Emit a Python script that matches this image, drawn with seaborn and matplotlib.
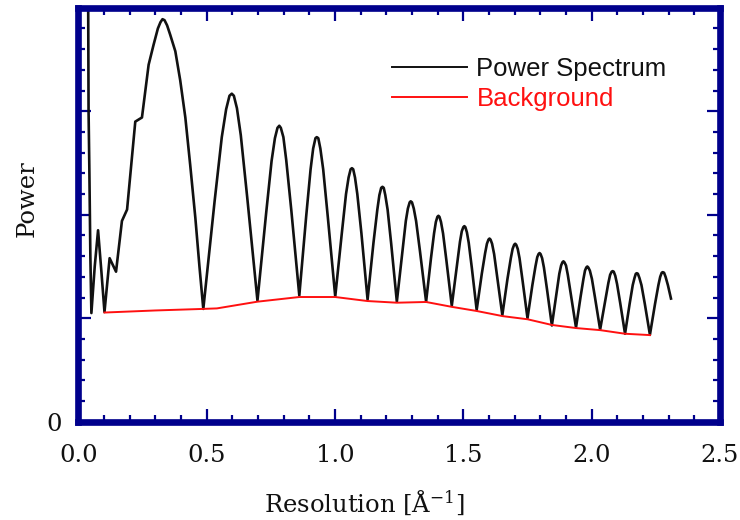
import matplotlib
matplotlib.use("Agg")
import matplotlib.pyplot as plt
import seaborn as sns
import pandas as pd
from matplotlib.ticker import MultipleLocator
from matplotlib.font_manager import FontProperties

# ---------------- data ----------------
spectrum_x = [
    0.038, 0.040, 0.043, 0.047, 0.051, 0.064, 0.077, 0.090, 0.102, 0.122,
    0.147, 0.170, 0.190, 0.205, 0.222, 0.248, 0.274, 0.293, 0.310, 0.320,
    0.328, 0.336, 0.346, 0.358, 0.378, 0.397, 0.417, 0.436, 0.456, 0.472, 0.487,
    0.531, 0.559, 0.576, 0.589, 0.598, 0.606, 0.618, 0.633, 0.658, 0.698,
    0.732, 0.753, 0.766, 0.776, 0.783, 0.789, 0.799, 0.810, 0.830, 0.861,
    0.888, 0.905, 0.915, 0.924, 0.929, 0.935, 0.943, 0.954, 0.972, 1.001,
    1.027, 1.043, 1.053, 1.061, 1.066, 1.071, 1.078, 1.087, 1.103, 1.127,
    1.150, 1.165, 1.173, 1.180, 1.185, 1.190, 1.196, 1.205, 1.219, 1.241,
    1.263, 1.276, 1.284, 1.291, 1.295, 1.300, 1.307, 1.316, 1.331, 1.355,
    1.374, 1.386, 1.393, 1.399, 1.403, 1.407, 1.413, 1.421, 1.434, 1.455,
    1.475, 1.487, 1.494, 1.500, 1.504, 1.508, 1.514, 1.521, 1.533, 1.552,
    1.572, 1.585, 1.592, 1.598, 1.602, 1.606, 1.612, 1.620, 1.632, 1.652,
    1.672, 1.685, 1.692, 1.698, 1.702, 1.706, 1.712, 1.719, 1.731, 1.750,
    1.769, 1.781, 1.788, 1.793, 1.797, 1.801, 1.807, 1.814, 1.826, 1.845,
    1.863, 1.874, 1.881, 1.886, 1.890, 1.894, 1.900, 1.907, 1.919, 1.939,
    1.957, 1.968, 1.974, 1.979, 1.983, 1.987, 1.993, 2.001, 2.013, 2.033,
    2.053, 2.065, 2.072, 2.078, 2.082, 2.086, 2.092, 2.099, 2.111, 2.130,
    2.148, 2.160, 2.167, 2.172, 2.176, 2.180, 2.186, 2.194, 2.207, 2.227,
    2.247, 2.260, 2.267, 2.273, 2.277, 2.282, 2.288, 2.297, 2.309,
]
spectrum_y = [
    4.40, 3.00, 2.45, 1.60, 1.05, 1.50, 1.85, 1.45, 1.06, 1.58,
    1.45, 1.94, 2.05, 2.45, 2.90, 2.94, 3.45, 3.64, 3.80, 3.86,
    3.89, 3.88, 3.83, 3.74, 3.58, 3.30, 2.94, 2.48, 1.97, 1.50, 1.09,
    2.13, 2.75, 3.02, 3.15, 3.17, 3.15, 3.03, 2.77, 2.17, 1.17,
    2.02, 2.52, 2.74, 2.84, 2.86, 2.84, 2.75, 2.53, 2.04, 1.22,
    1.99, 2.44, 2.64, 2.74, 2.75, 2.74, 2.64, 2.44, 1.98, 1.21,
    1.83, 2.20, 2.36, 2.44, 2.45, 2.44, 2.36, 2.20, 1.82, 1.18,
    1.73, 2.05, 2.19, 2.26, 2.27, 2.26, 2.19, 2.05, 1.72, 1.16,
    1.65, 1.94, 2.06, 2.12, 2.13, 2.12, 2.06, 1.94, 1.65, 1.16,
    1.58, 1.82, 1.93, 1.98, 1.99, 1.98, 1.93, 1.82, 1.56, 1.12,
    1.51, 1.74, 1.84, 1.88, 1.89, 1.88, 1.83, 1.73, 1.49, 1.08,
    1.43, 1.63, 1.72, 1.76, 1.77, 1.76, 1.72, 1.62, 1.40, 1.03,
    1.38, 1.58, 1.67, 1.71, 1.72, 1.71, 1.67, 1.58, 1.36, 1.00,
    1.32, 1.50, 1.59, 1.62, 1.63, 1.62, 1.58, 1.49, 1.28, 0.93,
    1.24, 1.43, 1.51, 1.54, 1.55, 1.54, 1.51, 1.42, 1.23, 0.91,
    1.21, 1.38, 1.46, 1.49, 1.50, 1.49, 1.46, 1.38, 1.20, 0.89,
    1.17, 1.34, 1.42, 1.45, 1.455, 1.45, 1.41, 1.33, 1.15, 0.85,
    1.14, 1.32, 1.39, 1.43, 1.435, 1.43, 1.39, 1.32, 1.14, 0.84,
    1.14, 1.32, 1.40, 1.44, 1.445, 1.44, 1.40, 1.32, 1.19,
]
background_x = [0.102, 0.300, 0.486, 0.540, 0.698, 0.861, 1.001, 1.127,
                1.241, 1.355, 1.455, 1.552, 1.654, 1.750, 1.845, 1.939,
                2.033, 2.130, 2.227]
background_y = [1.055, 1.075, 1.090, 1.095, 1.160, 1.205, 1.205, 1.166,
                1.150, 1.157, 1.110, 1.070, 1.020, 0.990, 0.935, 0.905,
                0.885, 0.850, 0.837]

series_labels = ["Power Spectrum", "Background"]
x_ticks = [0.0, 0.5, 1.0, 1.5, 2.0, 2.5]
x_tick_labels = ["0.0", "0.5", "1.0", "1.5", "2.0", "2.5"]
y_ticks = [0, 1, 2, 3, 4]
y_tick_labels = ["0", "", "", "", ""]
x_label = "Resolution [Å$^{\\mathregular{-1}}$]"
y_label = "Power"

# ---------------- style ----------------
NAVY = "#00008c"
SERIF = ["DejaVu Serif"]
plt.rcParams["font.family"] = SERIF
plt.rcParams["mathtext.fontset"] = "dejavuserif"

fig = plt.figure(figsize=(7.4, 5.2), dpi=100)
ax = fig.add_axes([78.3 / 740, 1 - 421.7 / 520, (720 - 78.3) / 740, (421.7 - 7.8) / 520])

spec_df = pd.DataFrame({"x": spectrum_x, "y": spectrum_y})
bg_df = pd.DataFrame({"x": background_x, "y": background_y})

sns.lineplot(data=spec_df, x="x", y="y", ax=ax, color="#111111", linewidth=1.9,
             sort=False, estimator=None, label=series_labels[0])
sns.lineplot(data=bg_df, x="x", y="y", ax=ax, color="#ff1010", linewidth=1.4,
             sort=False, estimator=None, label=series_labels[1])

ax.set_xlim(0, 2.5)
ax.set_ylim(0, 4.0)

ax.set_xticks(x_ticks)
ax.set_xticklabels(x_tick_labels)
ax.set_yticks(y_ticks)
ax.set_yticklabels(y_tick_labels)
ax.xaxis.set_minor_locator(MultipleLocator(0.1))
ax.yaxis.set_minor_locator(MultipleLocator(0.2))

for sp in ax.spines.values():
    sp.set_visible(True)
    sp.set_color(NAVY)
    sp.set_linewidth(4.8)

ax.tick_params(which="both", direction="in", top=True, right=True,
               color=NAVY, width=1.6, labelsize=17.5, labelcolor="#111111")
ax.tick_params(which="major", length=9.5)
ax.tick_params(which="minor", length=5)
ax.tick_params(axis="x", pad=16)
ax.tick_params(axis="y", pad=12)

ax.set_xlabel(x_label, fontsize=17.5, color="#111111")
ax.set_ylabel(y_label, fontsize=17.5, color="#111111")
ax.xaxis.set_label_coords((364 - 78.3) / 641.7, -(512 - 421.7) / 413.9)
ax.xaxis.label.set_verticalalignment("baseline")
ax.yaxis.set_label_coords((27 - 78.3) / 641.7, (421.7 - 198.5) / 413.9)
ax.yaxis.label.set_verticalalignment("center")

leg = ax.legend(loc="upper left", bbox_to_anchor=(391.7 / 740, 1 - 57 / 520),
                bbox_transform=fig.transFigure, frameon=False,
                prop=FontProperties(family="Liberation Sans", size=18.5),
                handlelength=2.95, handletextpad=0.35, labelspacing=0.25,
                borderpad=0, borderaxespad=0, labelcolor=["#111111", "#ff1010"])
for h in leg.get_lines():
    h.set_linewidth(1.4)

ax.set_facecolor("white")
fig.patch.set_facecolor("white")
fig.savefig("out.png", dpi=100)
